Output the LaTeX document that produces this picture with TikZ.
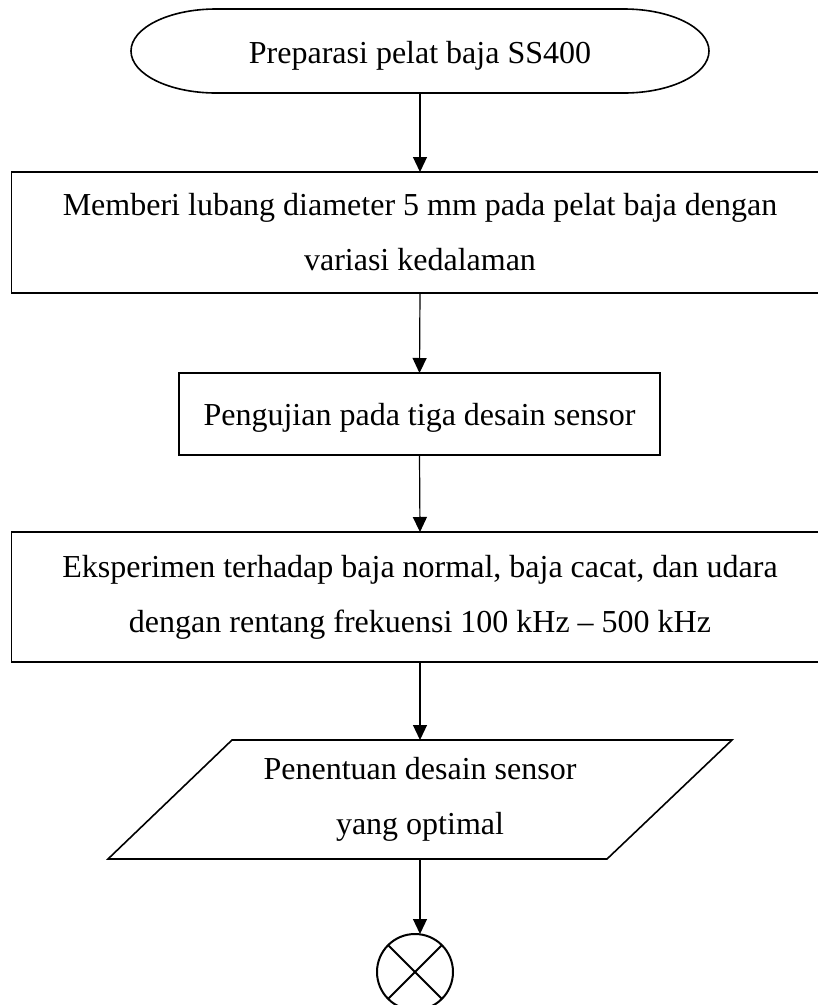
\documentclass[tikz,border=0pt]{standalone}
\usepackage{fontspec}
\setmainfont{Liberation Serif}
\usetikzlibrary{arrows.meta}
\begin{document}
\begin{tikzpicture}[x=1pt,y=1pt,
  every node/.style={font=\fontsize{32}{55}\selectfont, outer sep=0pt, inner sep=0pt, align=center},
  procbox/.style={draw, line width=1.8pt},
  shapeline/.style={line width=1.6pt},
  flow/.style={line width=1.2pt, -{Triangle[width=14pt,length=15pt]}}]
\useasboundingbox (0,0) rectangle (818,-1005);
\clip (0,0) rectangle (818,-1005);
% terminator
\draw[shapeline] (216,-9) -- (624,-9) arc[start angle=90,end angle=-90,x radius=85pt,y radius=42pt]
  -- (216,-93) arc[start angle=-90,end angle=-270,x radius=85pt,y radius=42pt] -- cycle;
\node (t) [minimum width=578pt, minimum height=84pt, text height=24pt, text depth=0pt] at (420,-51) {Preparasi pelat baja SS400};
% box 2
\node (b2) [procbox, minimum width=817pt, minimum height=121pt] at (420,-232.5)
  {Memberi lubang diameter 5 mm pada pelat baja dengan\\variasi kedalaman};
% box 3
\node (b3) [procbox, minimum width=481pt, minimum height=82pt, text height=22pt, text depth=0pt] at (419.5,-414)
  {Pengujian pada tiga desain sensor};
% box 4
\node (b4) [procbox, minimum width=817pt, minimum height=130pt] at (420,-597)
  {Eksperimen terhadap baja normal, baja cacat, dan udara\\dengan rentang frekuensi 100 kHz -- 500 kHz};
% parallelogram
\draw[shapeline] (232,-740) -- (732,-740) -- (607,-859) -- (108,-859) -- cycle;
\node (p) [minimum width=498pt, minimum height=119pt] at (420,-799.5)
  {Penentuan desain sensor\\yang optimal};
% end connector
\node (c) [draw, circle, line width=2pt, minimum size=76pt] at (415,-972) {};
\draw[line width=1.8pt] (c.north west) -- (c.south east);
\draw[line width=1.8pt] (c.north east) -- (c.south west);
% arrows
\draw[flow] (t.south) -- (b2.north);
\draw[flow] (b2.south) -- (b3.north);
\draw[flow] (b3.south) -- (b4.north);
\draw[flow] (b4.south) -- (p.north);
\draw[flow] (p.south) -- (p.south |- c.north);
\end{tikzpicture}
\end{document}
